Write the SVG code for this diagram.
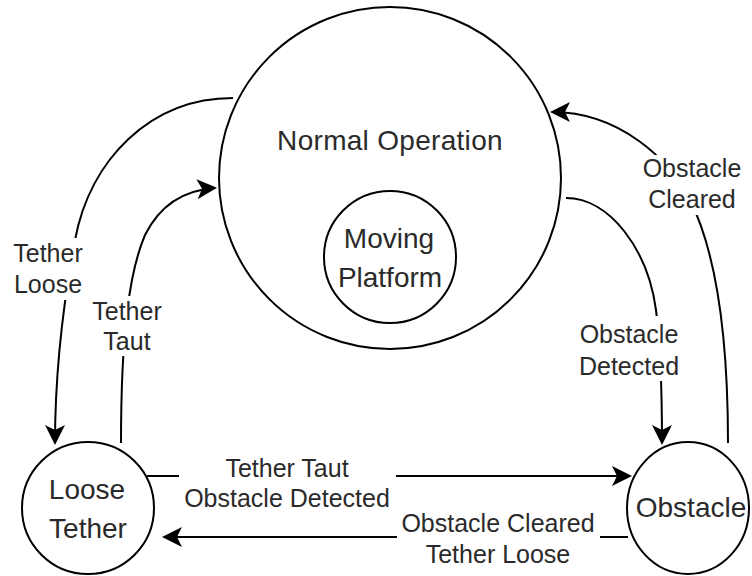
<svg xmlns="http://www.w3.org/2000/svg" width="752" height="576" viewBox="0 0 752 576">
  <style>
    .node { fill: #ffffff; stroke: #000000; stroke-width: 2; }
    .edge { fill: none; stroke: #000000; stroke-width: 2; marker-end: url(#arrow); }
    .plain { fill: none; stroke: #000000; stroke-width: 2; }
    .ntext { font-family: "Liberation Sans", Arial, sans-serif; font-size: 28px; fill: #2a2a2a; text-anchor: middle; }
    .etext { font-family: "Liberation Sans", Arial, sans-serif; font-size: 25px; fill: #2a2a2a; text-anchor: middle; }
    .lbg { fill: #ffffff; stroke: none; }
  </style>
  <defs>
    <marker id="arrow" viewBox="0 0 20 20" refX="18" refY="10" markerWidth="20" markerHeight="20" markerUnits="userSpaceOnUse" orient="auto">
      <path d="M0,0 L20,10 L0,20 L5,10 Z" fill="#000000"/>
    </marker>
  </defs>

  <rect x="0" y="0" width="752" height="576" fill="#ffffff"/>

  <!-- states -->
  <g id="normal-operation">
    <circle class="node" cx="390" cy="178" r="171"/>
    <text class="ntext" x="390" y="150" letter-spacing="0.3">Normal Operation</text>
  </g>
  <g id="moving-platform">
    <circle class="node" cx="390" cy="257" r="66"/>
    <text class="ntext" x="389" y="248">Moving</text>
    <text class="ntext" x="390" y="287">Platform</text>
  </g>
  <g id="loose-tether">
    <circle class="node" cx="88" cy="508" r="66"/>
    <text class="ntext" x="87" y="499">Loose</text>
    <text class="ntext" x="88" y="538">Tether</text>
  </g>
  <g id="obstacle">
    <ellipse class="node" cx="688" cy="508" rx="61" ry="66"/>
    <text class="ntext" x="691" y="517">Obstacle</text>
  </g>

  <!-- transitions -->
  <g id="connectors">
    <path class="edge" d="M233,98 C150,98 90,160 75,240 C62,310 55,380 55,443"/>
    <path class="edge" d="M121,443 C121,330 130,270 145,235 C160,205 185,190 215,188"/>
    <path class="edge" d="M566,198 C610,198 648,250 656,310 C661,350 662,400 662,443"/>
    <path class="edge" d="M728,443 C728,330 715,250 690,200 C670,160 620,112 552,112"/>
    <path class="edge" d="M147,476 L630,476"/>
    <path class="edge" d="M628,537 L164,537"/>

    <g id="label-tether-loose">
      <rect class="lbg" x="8" y="238" width="80" height="62"/>
      <text class="etext" x="48" y="262">Tether</text>
      <text class="etext" x="48" y="293">Loose</text>
    </g>
    <g id="label-tether-taut">
      <rect class="lbg" x="90" y="296" width="75" height="60"/>
      <text class="etext" x="127" y="320">Tether</text>
      <text class="etext" x="127" y="350">Taut</text>
    </g>
    <g id="label-obstacle-detected">
      <rect class="lbg" x="577" y="316" width="104" height="65"/>
      <text class="etext" x="629" y="343">Obstacle</text>
      <text class="etext" x="629" y="375">Detected</text>
    </g>
    <g id="label-obstacle-cleared">
      <rect class="lbg" x="640" y="155" width="105" height="60"/>
      <text class="etext" x="692" y="177">Obstacle</text>
      <text class="etext" x="692" y="208">Cleared</text>
    </g>
    <g id="label-taut-detected">
      <rect class="lbg" x="179" y="456" width="217" height="56"/>
      <text class="etext" x="287" y="477">Tether Taut</text>
      <text class="etext" x="287" y="507">Obstacle Detected</text>
    </g>
    <g id="label-cleared-loose">
      <rect class="lbg" x="397" y="512" width="203" height="60"/>
      <text class="etext" x="498" y="532">Obstacle Cleared</text>
      <text class="etext" x="498" y="563">Tether Loose</text>
    </g>
  </g>
</svg>
